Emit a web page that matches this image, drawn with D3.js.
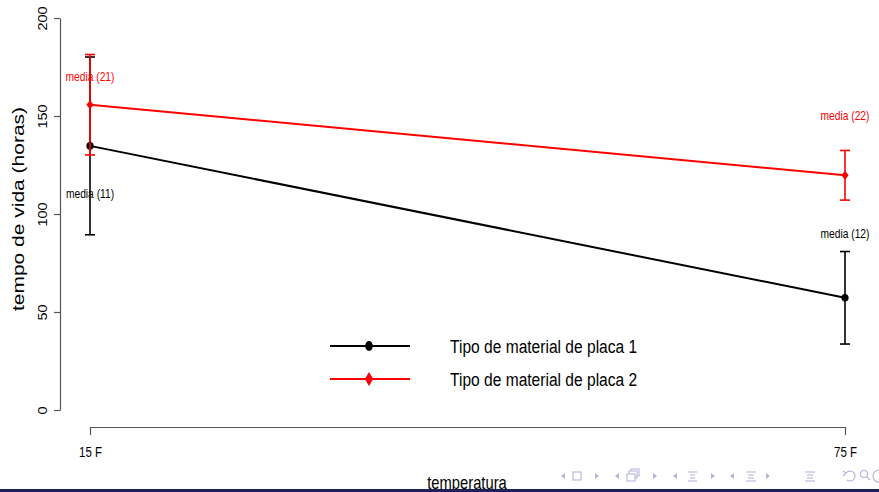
<!DOCTYPE html>
<html>
<head>
<meta charset="utf-8">
<script src="https://cdn.jsdelivr.net/npm/d3@7"></script>
<style>
  html, body { margin: 0; padding: 0; background: #fff; }
  svg { display: block; }
  text { font-family: "Liberation Sans", Arial, Helvetica, sans-serif; }
</style>
</head>
<body>
<svg id="chart" width="879" height="492"></svg>
<script>
// Temperature levels on the x axis
const temperatures = ["15 F", "75 F"];

// Mean lifetime (hours) and standard deviation for each plate material
const material1Mean = [134.75, 57.25];
const material1Sd   = [45.35, 23.60];
const material2Mean = [155.75, 119.75];
const material2Sd   = [25.62, 12.66];

// Annotation labels and the value they sit at
const material1Labels = ["media (11)", "media (12)"];
const material1LabelAt = [110, 90];
const material2Labels = ["media (21)", "media (22)"];
const material2LabelAt = [170, 150];

const yTicks = [0, 50, 100, 150, 200];
const legendLabels = ["Tipo de material de placa 1", "Tipo de material de placa 2"];

const svg = d3.select("#chart");
const SX = 0.82; // horizontal condensing of the slide text

const x = d3.scalePoint().domain(temperatures).range([90, 845]);
const y = d3.scaleLinear().domain([0, 200]).range([410, 18]);

// clip the plotting area at the slide footline
svg.append("defs").append("clipPath").attr("id", "slide")
  .append("rect").attr("x", 0).attr("y", 0).attr("width", 879).attr("height", 489);

const g = svg.append("g").attr("clip-path", "url(#slide)");

// y axis
const yAxis = g.append("g").attr("transform", "translate(60,0)")
  .call(d3.axisLeft(y).tickValues(yTicks).tickSize(6).tickSizeOuter(0).tickFormat(d3.format("d")));
yAxis.selectAll("path, line").attr("stroke", "#555").attr("stroke-width", 1.2);
yAxis.selectAll("text").remove();
yAxis.selectAll(".tick").append("text")
  .attr("transform", `translate(-13,0) scale(${SX},1) rotate(-90)`)
  .attr("text-anchor", "middle")
  .attr("fill", "#000")
  .attr("font-size", 14.5)
  .text(d => d);

// x axis
const xAxis = g.append("g").attr("transform", "translate(0,427)")
  .call(d3.axisBottom(x).tickSize(8).tickSizeOuter(0));
xAxis.selectAll("path, line").attr("stroke", "#555").attr("stroke-width", 1.2);
xAxis.selectAll("text").remove();
xAxis.selectAll(".tick").append("text")
  .attr("transform", `translate(0,30) scale(${SX},1)`)
  .attr("text-anchor", "middle")
  .attr("fill", "#000")
  .attr("font-size", 14)
  .text(d => d);

// axis titles
g.append("text")
  .attr("transform", `translate(24,209) scale(${SX},1) rotate(-90)`)
  .attr("text-anchor", "middle").attr("font-size", 21)
  .text("tempo de vida (horas)");
g.append("text")
  .attr("transform", `translate(467,489) scale(${SX},1)`)
  .attr("text-anchor", "middle").attr("font-size", 18)
  .text("temperatura");

// series
const series = [
  { mean: material1Mean, sd: material1Sd, color: "#000", labels: material1Labels, labelAt: material1LabelAt, shape: "circle" },
  { mean: material2Mean, sd: material2Sd, color: "#ff0000", labels: material2Labels, labelAt: material2LabelAt, shape: "diamond" }
];

const line = d3.line().x((d, i) => x(temperatures[i])).y(d => y(d));

function marker(sel, shape, color, rx, ry) {
  if (shape === "circle") {
    sel.append("ellipse").attr("rx", rx).attr("ry", ry).attr("fill", color);
  } else {
    sel.append("path")
      .attr("d", `M0,${-ry}L${rx},0L0,${ry}L${-rx},0Z`)
      .attr("fill", color);
  }
}

series.forEach(s => {
  const sg = g.append("g");
  sg.append("path").datum(s.mean).attr("d", line)
    .attr("fill", "none").attr("stroke", s.color).attr("stroke-width", 2);

  s.mean.forEach((m, i) => {
    const cx = x(temperatures[i]);
    const top = y(m + s.sd[i]), bot = y(m - s.sd[i]);
    sg.append("line").attr("x1", cx).attr("x2", cx).attr("y1", top).attr("y2", bot)
      .attr("stroke", s.color).attr("stroke-width", 1.6);
    [top, bot].forEach(yy => sg.append("line")
      .attr("x1", cx - 5).attr("x2", cx + 5).attr("y1", yy).attr("y2", yy)
      .attr("stroke", s.color).attr("stroke-width", 1.6));
    const mg = sg.append("g").attr("transform", `translate(${cx},${y(m)})`);
    marker(mg, s.shape, s.color, 3.6, s.shape === "circle" ? 3.8 : 4.6);

    sg.append("text")
      .attr("transform", `translate(${cx},${y(s.labelAt[i]) + 4}) scale(${SX},1)`)
      .attr("text-anchor", "middle").attr("font-size", 12.5)
      .attr("fill", s.color)
      .text(s.labels[i]);
  });
});

// legend
const legendRows = [346, 379];
series.forEach((s, i) => {
  const ly = legendRows[i];
  g.append("line").attr("x1", 330).attr("x2", 410).attr("y1", ly).attr("y2", ly)
    .attr("stroke", s.color).attr("stroke-width", 2);
  const mg = g.append("g").attr("transform", `translate(369,${ly})`);
  marker(mg, s.shape, s.color, s.shape === "circle" ? 3.8 : 4.2, s.shape === "circle" ? 5 : 7);
  g.append("text")
    .attr("transform", `translate(450,${ly + 7}) scale(${SX},1)`)
    .attr("font-size", 19)
    .text(legendLabels[i]);
});

// slide footline
svg.append("rect").attr("x", 0).attr("y", 489).attr("width", 879).attr("height", 3).attr("fill", "#1f1f5c");

// slide navigation symbols
const nav = svg.append("g").attr("fill", "none").attr("stroke", "#b4b4dc").attr("stroke-width", 1.1);
const navFill = "#b4b4dc";
const cy = 476;
const leftTri = xx => svg.append("path").attr("d", `M${xx + 3},${cy - 3}L${xx - 1},${cy}L${xx + 3},${cy + 3}Z`).attr("fill", navFill);
const rightTri = xx => svg.append("path").attr("d", `M${xx - 2},${cy - 3}L${xx + 2},${cy}L${xx - 2},${cy + 3}Z`).attr("fill", navFill);
[562, 616, 674, 731].forEach(leftTri);
[597, 655, 713, 768].forEach(rightTri);
nav.append("rect").attr("x", 573).attr("y", 472).attr("width", 8).attr("height", 8);
nav.append("rect").attr("x", 627).attr("y", 474).attr("width", 8).attr("height", 7);
nav.append("path").attr("d", "M629,474V471H637V478H635M631,471V469H639V476H637");
[[688, 697], [746, 756], [805, 815]].forEach(([a, b]) => {
  [472, 475, 478, 481].forEach((yy, k) => nav.append("line")
    .attr("x1", a + (k === 1 || k === 2 ? 2 : 0)).attr("x2", b - (k === 1 || k === 2 ? 2 : 0))
    .attr("y1", yy).attr("y2", yy));
});
nav.append("path").attr("d", "M846,473A5,5 0 1 1 847,480").attr("stroke-width", 1.2);
nav.append("path").attr("d", "M843,471L846,473L843,476");
nav.append("circle").attr("cx", 864).attr("cy", 474).attr("r", 3.5);
nav.append("line").attr("x1", 866.5).attr("y1", 476.5).attr("x2", 870).attr("y2", 480);
nav.append("path").attr("d", "M879,470A6,6 0 0 0 879,482");
</script>
</body>
</html>
